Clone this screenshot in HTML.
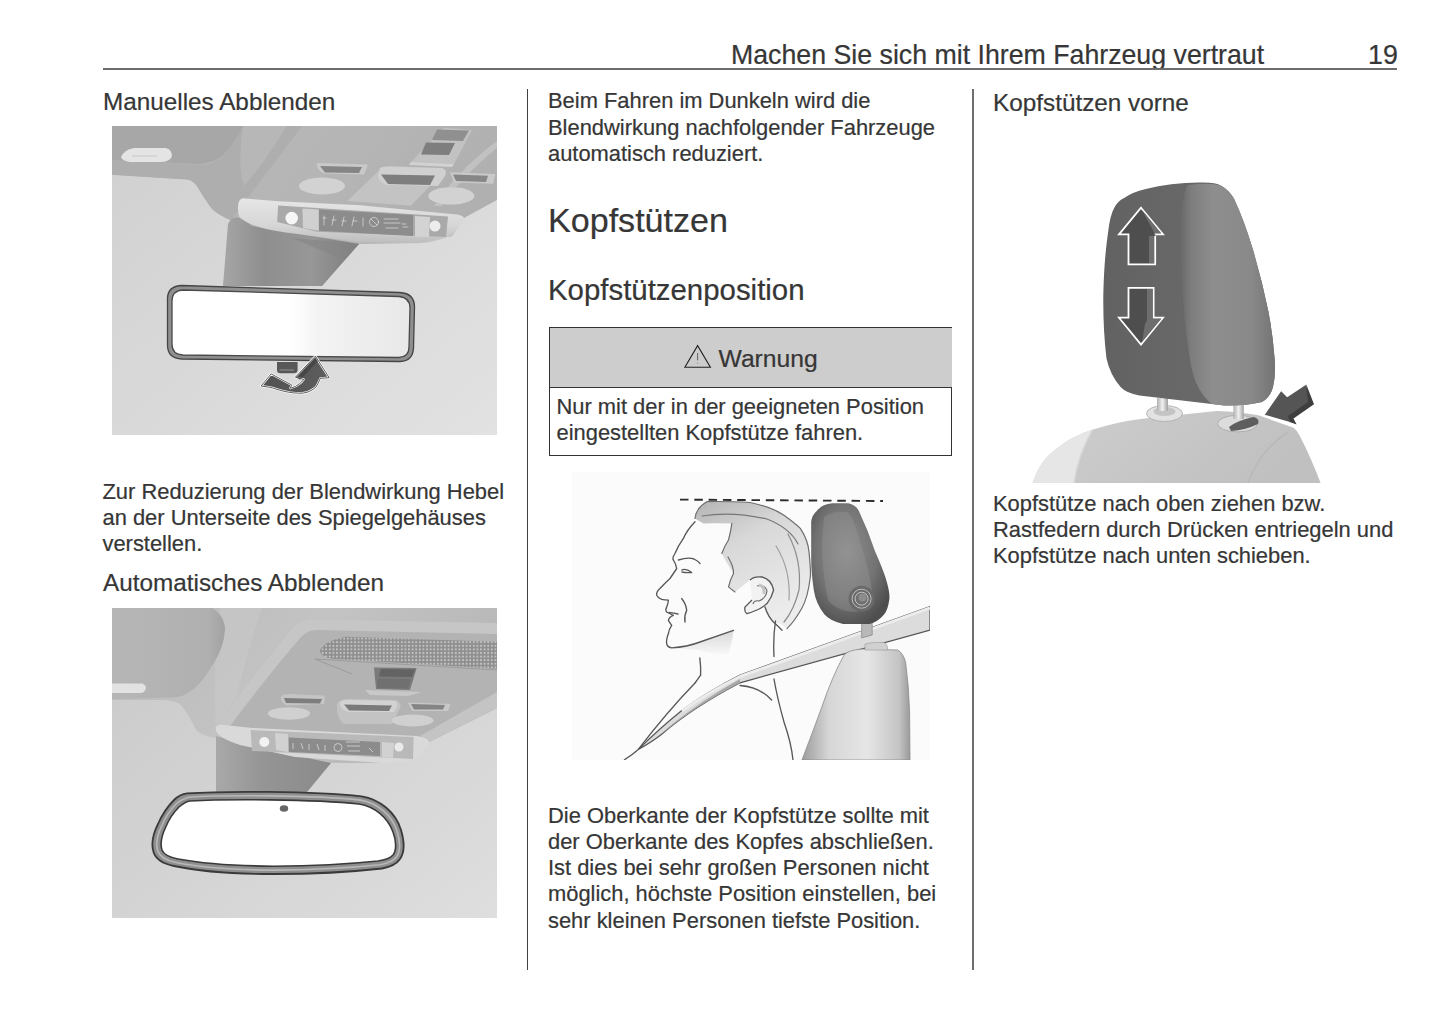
<!DOCTYPE html>
<html><head><meta charset="utf-8">
<style>
html,body{margin:0;padding:0;background:#fff;}
body{width:1445px;height:1018px;position:relative;overflow:hidden;font-family:"Liberation Sans",sans-serif;color:#363636;}
.a{position:absolute;white-space:nowrap;-webkit-text-stroke:0.22px #363636;}
.p{font-size:21.9px;line-height:26.2px;}
.h{font-size:24.3px;line-height:30px;}
.rule{position:absolute;background:#555;}
.img{position:absolute;}
</style></head>
<body>
<!-- header -->
<div class="a" style="left:731px;top:39px;font-size:26.72px;line-height:32px;">Machen Sie sich mit Ihrem Fahrzeug vertraut</div>
<div class="a" style="left:1368px;top:39px;font-size:26.8px;line-height:32px;">19</div>
<div class="rule" style="left:103px;top:68px;width:1294px;height:2px;background:#6c6c6c;"></div>
<div class="rule" style="left:527px;top:89px;width:1.1px;height:880.5px;background:#404040;"></div>
<div class="rule" style="left:972.3px;top:89px;width:1.7px;height:881px;background:#6e6e6e;"></div>

<!-- left column -->
<div class="a h" style="left:103px;top:87px;">Manuelles Abblenden</div>
<div class="img" id="img1" style="left:112px;top:126px;width:385px;height:309px;overflow:hidden;"><svg width="385" height="310" viewBox="0 0 385 310" style="position:absolute;left:0;top:0">
<defs>
<linearGradient id="i1bg" x1="0" y1="0" x2="1" y2="1"><stop offset="0" stop-color="#d0d0d0"/><stop offset="1" stop-color="#e2e2e2"/></linearGradient>
<linearGradient id="i1head" x1="0" y1="0" x2="1" y2="0.3"><stop offset="0" stop-color="#b4b4b4"/><stop offset="0.5" stop-color="#b6b6b6"/><stop offset="1" stop-color="#b0b0b0"/></linearGradient>
<linearGradient id="i1stem" x1="0" y1="0" x2="1" y2="0"><stop offset="0" stop-color="#a6a6a6"/><stop offset="0.3" stop-color="#8e8e8e"/><stop offset="0.65" stop-color="#979797"/><stop offset="1" stop-color="#7c7c7c"/></linearGradient>
<linearGradient id="i1glass" x1="0" y1="0" x2="1" y2="0"><stop offset="0" stop-color="#fff"/><stop offset="0.5" stop-color="#fff"/><stop offset="0.62" stop-color="#f3f3f3"/><stop offset="1" stop-color="#e8e8e8"/></linearGradient>
<linearGradient id="i1bar" x1="0" y1="0" x2="0" y2="1"><stop offset="0" stop-color="#e6e6e6"/><stop offset="0.6" stop-color="#d6d6d6"/><stop offset="1" stop-color="#bdbdbd"/></linearGradient>
<linearGradient id="i1arrow" x1="0" y1="0" x2="1" y2="0"><stop offset="0" stop-color="#505050"/><stop offset="1" stop-color="#5e5e5e"/></linearGradient>
</defs>
<rect width="385" height="310" fill="url(#i1bg)"/>
<!-- headliner / roof region -->
<path d="M0 0 H385 V74 L352 92 L340 110 L303 117 L247 118 L210 160 L111 160 L119.5 94.5 Q108 90 100 83 Q92 72 88 65 Q82 54 75.5 53.5 L0 48.7 Z" fill="url(#i1head)"/>
<path d="M0 33 L88 39 Q100 39 110 31 L131 0 L190 0 Q160 40 128 82 L119.5 94.5 Q108 90 100 83 Q92 72 88 65 Q82 54 75.5 53.5 L0 48.7 Z" fill="#aeaeae"/>
<!-- visor -->
<path d="M0 0 H131 Q122 18 110 30 Q100 38 86 38 L0 34 Z" fill="#a7a7a7"/>
<path d="M9 31 Q12 24 22 22 L54 22 Q60 24 60 30 Q58 36 48 36 L18 36 Q10 35 9 31 Z" fill="#e4e4e4"/>
<path d="M20 30 L45 30" stroke="#c8c8c8" stroke-width="1"/>
<!-- diagonal lighter band (A-pillar trim) -->
<path d="M131 0 L175 0 Q150 40 132 60 Q125 40 131 0 Z" fill="#c0c0c0" opacity="0.5"/>
<!-- sensor box -->
<path d="M332 2 L360 4 L342 38 L299 36 Z" fill="#c2c2c2"/>
<path d="M325 3.5 L357 4.5 L351 15 L320 14 Z" fill="#909090"/>
<path d="M314 16.5 L343 17 L337 29 L309 28.5 Z" fill="#7e7e7e"/>
<path d="M299 36 L342 38 L340 41 L297 39 Z" fill="#d2d2d2"/>
<!-- housing right rim -->
<path d="M385 15 L385 22 Q350 50 330 80 L322 80 Q345 45 385 15 Z" fill="#c6c6c6" opacity="0.8"/>
<!-- switches -->
<path d="M205 37 L256 38.5 L252 48.5 L212 47.5 Q204 44 205 37 Z" fill="#c9c9c9"/>
<path d="M208 40 L250 41 L247 47 L213 46.5 Z" fill="#858585"/>
<path d="M270 41.6 L333.6 43.9 L298.9 79.7 L235.3 75.1 Z" fill="#c3c3c3"/>
<path d="M268 42 Q272 40 282 40.4 L330 42 Q336 44 333 50 L326 60 L275 59 Q266 56 266 50 Z" fill="#d0d0d0"/>
<path d="M269 48.5 L323 49.5 L318 58.9 L276 58 Z" fill="#7e7e7e"/>
<path d="M338 46.2 L383.3 48 L381 57.8 L342 56.5 Z" fill="#c9c9c9"/>
<path d="M341 48.5 L376 49.8 L374 56 L344 55 Z" fill="#878787"/>
<ellipse cx="210" cy="60" rx="23" ry="8.5" fill="#d2d2d2"/>
<ellipse cx="339.3" cy="69.9" rx="23" ry="8.7" fill="#d2d2d2"/>
<!-- stem -->
<path d="M116 98 Q122 84 140 100 L247 118 L210 160 L111 160 Z" fill="url(#i1stem)"/>
<path d="M180 112 L247 118 L232 134 Z" fill="#858585" opacity="0.6"/>
<!-- console bar -->
<path d="M126 80 Q126.5 73 131 72.3 L166 75.2 L248 79.2 L345 88.5 Q354 90 352 95 L340 109 Q322 117 303 117.3 L248 116.3 L185.5 108 Q160 105 146.8 101 Q132 96 127.5 91 Q125.5 86 126 80 Z" fill="url(#i1bar)"/>
<path d="M166.1 79.5 L336 90.5 L334 111 L205 105.7 L165.2 96 Z" fill="#a9a9a9"/>
<path d="M206.8 83.4 L301 89 L301 110 L206.8 104.7 Z" fill="#8c8c8c"/>
<path d="M190.4 82.4 L206.8 83.4 L206.8 104.7 L191 102 Z" fill="#d0d0d0"/>
<path d="M303 90 L318 91 L317 111 L303 110.5 Z" fill="#d3d3d3"/>
<circle cx="179.7" cy="92.1" r="6.3" fill="#f6f6f6"/>
<circle cx="323" cy="100" r="5.5" fill="#ededed"/>
<g stroke="#d6d6d6" stroke-width="0.8" fill="none" stroke-linecap="round">
<path d="M212 90 v9 M211 92 h3 M222 90 l-2 9 M220 94 h4 M232 91 l-2 9 M230 95 h4 M242 91 l-2 9 M241 95 h4 M251 92 v8"/>
<circle cx="262" cy="96" r="4.5"/>
<path d="M259 93 l6 6"/>
<path d="M272 93 h14 M272 97 h16 M274 102 h12 M290 98 h4 M291 101 h5"/>
</g>
<!-- mirror -->
<path d="M70 159.5 L288 166.5 Q302.5 167.5 302.5 181 L301.5 222 Q301 235 288 235.5 L70 233 Q55.5 232.5 55.5 219 L55.5 173 Q55.5 160 70 159.5 Z" fill="#8f8f8f" stroke="#454545" stroke-width="1.3"/>
<path d="M71 164 L287 170.5 Q298 171.5 298 182 L297 221 Q297 231 287 231.5 L71 229 Q60 228.5 60 218 L60 175 Q60 164.5 71 164 Z" fill="url(#i1glass)" stroke="#4a4a4a" stroke-width="1.3"/>
<!-- knob -->
<path d="M165 236 L185.6 236 L185.6 244 Q185.6 247.3 182 247.3 L168.5 247.3 Q165 247.3 165 244 Z" fill="#585858"/>
<path d="M167.5 244 L182 244" stroke="#8a8a8a" stroke-width="1.2"/>
<!-- arrow -->
<path d="M149.1 260 L159.1 247.9 L179.5 258.9 L178.4 262.3 Q184 261 187.3 257.8 Q190 256 191.7 253.4 L183.4 251.2 L203.4 230.1 L217.2 251.7 L208.3 252.3 Q206 258 203.9 261.2 Q200 264.5 195.6 266.1 Q191 267.5 187.3 267.2 Q180 267 176.2 266.1 Q170 265 165.1 263.4 Q160 261.5 156.8 261.1 Z" fill="url(#i1arrow)" stroke="#fff" stroke-width="2.2" stroke-linejoin="round"/>
<path d="M149.1 260 L159.1 247.9 L179.5 258.9 L178.4 262.3 Q184 261 187.3 257.8 Q190 256 191.7 253.4 L183.4 251.2 L203.4 230.1 L217.2 251.7 L208.3 252.3 Q206 258 203.9 261.2 Q200 264.5 195.6 266.1 Q191 267.5 187.3 267.2 Q180 267 176.2 266.1 Q170 265 165.1 263.4 Q160 261.5 156.8 261.1 Z" fill="none" stroke="#333" stroke-width="0.8" stroke-linejoin="round"/>
<path d="M184 251 L203.4 231 L206 235 L188 254 Z" fill="#3a3a3a" opacity="0.6"/>
</svg>
</div>
<div class="a p" style="left:102.5px;top:479px;">Zur Reduzierung der Blendwirkung Hebel<br>an der Unterseite des Spiegelgehäuses<br>verstellen.</div>
<div class="a h" style="left:103px;top:568px;">Automatisches Abblenden</div>
<div class="img" id="img2" style="left:112px;top:608px;width:385px;height:310px;overflow:hidden;"><svg width="385" height="310" viewBox="0 0 385 310" style="position:absolute;left:0;top:0">
<defs>
<linearGradient id="i2bg" x1="0" y1="0" x2="1" y2="1"><stop offset="0" stop-color="#c9c9c9"/><stop offset="1" stop-color="#dedede"/></linearGradient>
<linearGradient id="i2head" x1="0" y1="0" x2="1" y2="0.4"><stop offset="0" stop-color="#b9b9b9"/><stop offset="0.5" stop-color="#c3c3c3"/><stop offset="1" stop-color="#b6b6b6"/></linearGradient>
<linearGradient id="i2visor" x1="0" y1="0" x2="1" y2="0"><stop offset="0" stop-color="#b6b6b6"/><stop offset="0.85" stop-color="#b0b0b0"/><stop offset="1" stop-color="#a2a2a2"/></linearGradient>
<linearGradient id="i2stem" x1="0" y1="0" x2="1" y2="0"><stop offset="0" stop-color="#a9a9a9"/><stop offset="0.4" stop-color="#959595"/><stop offset="1" stop-color="#8a8a8a"/></linearGradient>
<linearGradient id="i2frame" x1="0" y1="0" x2="0" y2="1"><stop offset="0" stop-color="#555"/><stop offset="1" stop-color="#4a4a4a"/></linearGradient>
<pattern id="dots" width="3.6" height="3.6" patternUnits="userSpaceOnUse"><rect width="3.6" height="3.6" fill="#8e8e8e"/><circle cx="1.8" cy="1.8" r="1.05" fill="#c6c6c6"/></pattern>
</defs>
<rect width="385" height="310" fill="url(#i2bg)"/>
<!-- headliner surround -->
<path d="M0 0 H385 V100 L317 134 L274 155 L219 155 L195 184 L104 184 L104 130 Q90 128 84 122 Q76 105 68 96 Q60 92 50 92 L0 92 Z" fill="url(#i2head)"/>
<!-- diagonal light band -->
<path d="M108 0 L150 0 Q130 60 118 118 L104 118 Q100 60 108 0 Z" fill="#c7c7c7" opacity="0.7"/>
<!-- visor -->
<path d="M0 0 H100 Q113 8 113 22 Q112 40 100 58 Q88 78 76 85 Q70 89 60 89.6 L0 91 Z" fill="url(#i2visor)"/>
<path d="M0 75.5 L30 75.5 Q34 77 34 80 Q33 85 28 85 L0 85 Z" fill="#e2e2e2"/>
<!-- console housing -->
<path d="M183 17 Q190 12 200 12 L385 16 L385 100 L317 134 L140 120 L104 118 Q150 55 183 17 Z" fill="#b3b3b3"/>
<path d="M183 17 Q190 11.5 202 11.5 L385 15 L385 26 L205 22 Q196 22 190 28 Q160 62 118 118 L104 118 Q150 55 183 17 Z" fill="#c6c6c6"/>
<path d="M385 84 L385 100 L317 134 L308 128 Z" fill="#c4c4c4"/>
<path d="M208 42 Q214 32 234 28.7 L385 33.8 L385 60.8 L220 50.7 Q207 48 208 42 Z" fill="url(#dots)"/>
<path d="M203 51 L385 62 M203 51 L240 66" stroke="#9c9c9c" stroke-width="1"/>
<path d="M253 82 L310 84 L296 88 L258 87 Z" fill="#c8c8c8"/>
<path d="M262 59.5 L304.7 60 L298 82 L264 81 Z" fill="#7a7a7a"/>
<path d="M269 61 L303 61.5 L300 69 L267 68.5 Z" fill="#636363"/>
<path d="M266 70.5 L299 71 L296 80.5 L265 80 Z" fill="#707070"/>
<path d="M169 88 Q171 86 176 86 L212 87.5 Q214 90 212 96 L175 97.5 Q168 95 169 88 Z" fill="#c4c4c4"/>
<path d="M172 90 L210 91 L208 95.5 L174 95 Z" fill="#7e7e7e"/>
<path d="M225 96 Q228 91 236 91 L284 92 Q290 95 288 100 L280 116 L232 116 Q224 110 225 96 Z" fill="#c3c3c3"/>
<path d="M228 94 Q230 92 236 92 L283 93 Q286 95 285 99 L282 104 L236 104 Q227 101 228 94 Z" fill="#d2d2d2"/>
<path d="M232 96.5 L280 97.5 L277 103 L237 102.5 Z" fill="#7a7a7a"/>
<path d="M296 94.6 L338.5 96 L336 103 L300 103 Z" fill="#c8c8c8"/>
<path d="M299 96 L333 97 L331 101.5 L302 101.5 Z" fill="#858585"/>
<ellipse cx="177" cy="105.5" rx="21" ry="6.2" fill="#d0d0d0"/>
<ellipse cx="300.5" cy="112.4" rx="21" ry="6" fill="#d0d0d0"/>
<!-- stem -->
<path d="M104 128 L140 138 L219 155 L195 184 L104 184 Z" fill="url(#i2stem)"/>
<!-- console bar -->
<path d="M103.6 118.8 Q106 116 112 117 L140 120 L304.6 128 Q318 130 317 135 L308 149 Q296 155 274 155.3 L183 149 L128 137 Q112 132 106 126 Q103 122 103.6 118.8 Z" fill="#d9d9d9"/>
<path d="M138.6 122 L301.6 129 L301 151 L140 143 Z" fill="#b9b9b9"/>
<path d="M176.7 129.5 L268 134 L268 148 L177 144 Z" fill="#8c8c8c"/>
<path d="M163 125 L176 126 L176 144 L164 142 Z" fill="#d1d1d1"/>
<path d="M270 134 L282 135 L281 150 L270 149 Z" fill="#d1d1d1"/>
<circle cx="152.3" cy="134" r="5" fill="#f2f2f2"/>
<circle cx="287" cy="139" r="4.5" fill="#eaeaea"/>
<g stroke="#d8d8d8" stroke-width="0.8" fill="none">
<path d="M181 135 v6 M189 135 l2 6 M197 136 v6 M205 136 l2 6 M213 137 v6"/>
<circle cx="226" cy="139.5" r="4"/>
<path d="M234 134 h14 M235 138 h13 M236 143 h12 M257 140 l4 4"/>
</g>
<!-- mirror -->
<path d="M75 185.4 C110 183 200 183 249.6 188.3 C268 191 284 205 289 222 C292 232 293 244 288 251 C284 257 278 259 270 260.5 C230 265 190 266 162 266 C130 266 90 264 62 258 C52 256 44 252 41.5 244 C39 236 41 226 46 216 C50 207 56 198 62 192 C66 188 70 186 75 185.4 Z" fill="#8e8e8e" stroke="#3a3a3a" stroke-width="1.8"/>
<path d="M76.5 189.2 C111 187 200 187 248.3 192.1 C265.5 194.7 280 207.5 285 223 C288 232 289 243 284.5 249 C281 253.8 275.5 255.5 268 256.8 C229 261 190 262 162 262.1 C130.5 262 91.5 260 64 254.5 C55 252.7 48 249.5 45.8 243 C43.5 236 45.2 227 49.8 217.8 C53.5 209 59 201 64.5 195.5 C68.2 192 72.2 190.8 76.5 189.2 Z" fill="none" stroke="#b8b8b8" stroke-width="1.6"/>
<path d="M78 193 C112 191 200 191 247 196 C263 198.5 276 210 281 224 C284 232 285 242 281 247 C278 250.5 273 252 266 253 C228 257 190 258 162 258.2 C131 258 93 256 66 251 C58 249.5 52 247 50 242 C48 236 49.5 228 53.5 219.5 C57 211 62 204 67 199 C70.5 196 74 193.5 78 193 Z" fill="#fff" stroke="#3a3a3a" stroke-width="1.6"/>
<ellipse cx="172" cy="200.5" rx="4.2" ry="3.2" fill="#666"/>
</svg>
</div>

<!-- middle column -->
<div class="a p" style="left:548px;top:88.3px;">Beim Fahren im Dunkeln wird die<br>Blendwirkung nachfolgender Fahrzeuge<br>automatisch reduziert.</div>
<div class="a" style="left:548px;top:199.8px;font-size:34.1px;line-height:40px;">Kopfstützen</div>
<div class="a" style="left:548px;top:271.5px;font-size:29.4px;line-height:36px;">Kopfstützenposition</div>
<div class="a" style="left:548.5px;top:326.5px;width:401.5px;height:127px;border:1.5px solid #333;"></div>
<div class="a" style="left:550px;top:328px;width:401.5px;height:59px;background:#cdcdcd;border-bottom:1.5px solid #333;"></div>
<svg style="position:absolute;left:675px;top:335px" width="60" height="40" viewBox="675 335 60 40"><path d="M697.6 345.6 L684.9 367.2 L710.4 367.2 Z" fill="none" stroke="#222" stroke-width="1.1" stroke-linejoin="miter"/><path d="M697.6 353 L697.6 360.3" stroke="#555" stroke-width="0.9"/><circle cx="697.6" cy="363.2" r="0.5" fill="#666"/></svg>
<div class="a" style="left:718.5px;top:344px;font-size:24.7px;line-height:30px;">Warnung</div>
<div class="a p" style="left:556.5px;top:393.8px;">Nur mit der in der geeigneten Position<br>eingestellten Kopfstütze fahren.</div>
<div class="img" id="img3" style="left:572px;top:472px;width:358px;height:288px;overflow:hidden;"><svg width="358" height="288" viewBox="0 0 358 288" style="position:absolute;left:0;top:0">
<defs>
<linearGradient id="i3hair" x1="0" y1="0" x2="0.5" y2="1"><stop offset="0" stop-color="#b4b4b4"/><stop offset="0.18" stop-color="#c4c4c4"/><stop offset="0.4" stop-color="#d8d8d8"/><stop offset="1" stop-color="#ececec"/></linearGradient>
<radialGradient id="i3hr" cx="0.45" cy="0.4" r="0.65"><stop offset="0" stop-color="#8e8e8e"/><stop offset="0.6" stop-color="#737373"/><stop offset="1" stop-color="#4e4e4e"/></radialGradient>
<linearGradient id="i3seat" x1="0" y1="0" x2="1" y2="0"><stop offset="0" stop-color="#9c9c9c"/><stop offset="0.25" stop-color="#d6d6d6"/><stop offset="0.6" stop-color="#e6e6e6"/><stop offset="0.9" stop-color="#c4c4c4"/><stop offset="1" stop-color="#9a9a9a"/></linearGradient>
<linearGradient id="i3jaw" x1="0" y1="0" x2="0" y2="1"><stop offset="0" stop-color="#d0d0d0"/><stop offset="1" stop-color="#f6f6f6"/></linearGradient>
</defs>
<rect width="358" height="288" fill="#fcfbfb"/>
<!-- dashed line -->
<path d="M108 27.6 L311 29" stroke="#2a2a2a" stroke-width="1.9" stroke-dasharray="8.5 5.8"/>
<!-- hair -->
<path d="M123 46.4 Q124 36 134.8 29.7 Q150 29 178 30.5 Q200 35 211.6 43 Q224 52 228.3 56.4 Q236 68 237 80 Q239 100 238.3 105 Q236 125 230 136 Q222 150 215 156.6 Q208 150 203 151.6 Q196 140 193 135 Q200 125 201.6 118 Q199 107 190 105 Q182 104 178 108 Q168 116 163 119.9 Q157 116 156.5 114.9 Q160 105 161.5 101.5 Q154 90 149.8 81.5 Q153 73 156.5 68 Q159 58 159.8 51.4 Q140 51 131.4 51.4 Z" fill="url(#i3hair)"/>
<g fill="none" stroke="#6e6e6e" stroke-width="1.2" stroke-linecap="round">
<path d="M123 46.4 Q124 36 134.8 29.7 Q150 29 178 30.5 Q200 35 211.6 43 Q224 52 228.3 56.4 Q236 68 237 80 Q239 100 238.3 105 Q236 125 230 136 Q222 150 215 156.6"/>
<path d="M130 44 Q160 39 195 47 Q218 56 226 72" stroke="#777" stroke-width="1.1"/>
<path d="M216 62 Q230 88 227 118 Q222 138 212 150" stroke="#8c8c8c"/>
<path d="M204 74 Q219 98 217 128" stroke="#a0a0a0"/>
<path d="M159.8 51.4 Q159 58 156.5 68 Q153 73 149.8 81.5"/>
<path d="M156 85 Q162 95 161.5 101.5 Q158 108 156.5 114.9 Q160 118 163 119.9"/>
</g>
<!-- ear -->
<path d="M178 108 Q182 104 190 105 Q199 107 201.6 118 Q200 125 195 131.6 Q190 136 185 138 Q178 141 174.9 141.6 Q172 140 173 135 Q176 132 180 128" fill="#f2f2f2" stroke="#585858" stroke-width="1.3"/>
<path d="M185 114 Q193 112 195 119 Q194 126 187 129 Q182 128 181 132" fill="none" stroke="#666" stroke-width="1.1"/>
<path d="M187 113 Q193 114 192 122" fill="none" stroke="#c4c4c4" stroke-width="3"/>
<!-- jaw shadow -->
<path d="M100 175.8 Q130 172 161.5 158.3 Q160 172 156 182 Q135 182 128 178.3 Q112 177 100 175.8 Z" fill="url(#i3jaw)" opacity="0.8"/>
<!-- face profile -->
<g fill="none" stroke="#585858" stroke-width="1.35" stroke-linejoin="round" stroke-linecap="round">
<path d="M123 49.7 Q115 58 111.4 66.4 Q106 74 103 81.5 Q100 86 101.4 88 Q104 92 104.7 96.5 Q101 102 98 106.5 Q92 112 88 116.5 Q84 120 84.7 123.2 Q86 126 89.7 127.4 Q93 128 96.4 128.2 Q96 132 94.7 134.9 Q93 138 94.7 140 Q98 142 101.4 143.3 Q97 145 96.4 148.3 Q98 151 99.7 153.3 Q97 157 96.4 161.6 Q94 168 94.7 171.6 Q95 175 99.7 175.8 Q115 175 128 170 Q145 164 161.5 158.3"/>
<path d="M106.4 88 Q116 85 122 87 Q126 89 128 91.5"/>
<path d="M109.7 98 Q114 96 119.7 100.5 Q114 101 110 100"/>
<path d="M109.7 126.5 Q114 132 114.7 138.2 Q112 144 113 150"/>
<path d="M97 140.5 Q102 141 106 142"/>
<path d="M127.8 185.9 Q129 195 128.6 203.2"/>
<path d="M203.5 149 Q201 165 202 184.5 M202 207 Q205 225 212 250 Q219.3 271 221 288"/>
<path d="M193 135 Q196 145 203 151.6 Q207 155 210 158.3"/>
<path d="M128.6 203.2 Q126 207 123 211"/>
<path d="M168 213.5 Q188 215 199.6 228"/>
</g>
<!-- belt -->
<path d="M358 134.6 L168 203 Q135 220 110.4 238 Q88 256 66.3 277.4 Q80 270 90 262 Q120 236 168 210.8 L358 158.2 Z" fill="#dcdcdc" stroke="#555" stroke-width="1.2"/>
<path d="M358 136 L168 204.5 Q135 221 110 239" fill="none" stroke="#ececec" stroke-width="3"/>
<path d="M168 210.8 Q120 236 90 262 L98 254 Q130 228 168 207 Z" fill="#a8a8a8"/>
<path d="M123 211 Q95 240 66.3 277.4 Q60 283 52 288" fill="none" stroke="#585858" stroke-width="1.3"/>
<!-- seat -->
<path d="M271.9 183.2 Q276 178 290 177 L325.8 178 Q332 182 333.7 191 Q337 215 337.6 240 L338 288 L230 288 Q240 262 249.8 235 Q260 205 271.9 183.2 Z" fill="url(#i3seat)" stroke="#8a8a8a" stroke-width="0.8"/>
<path d="M293 172 Q300 170 312 170.5 Q316 172 315.5 178 L293 178 Z" fill="#d0d0d0" stroke="#999" stroke-width="0.6"/>
<!-- post -->
<path d="M289.6 150 L300.2 150 L300.2 163 L289.6 166 Z" fill="#b8b8b8" stroke="#777" stroke-width="0.6"/>
<!-- headrest -->
<path d="M244.5 39.2 Q250 32 260.4 31.3 L276.3 31.3 Q284 33 287 39.2 Q296 58 302.9 79 Q310 95 313.5 105.5 Q318 120 317.4 126.7 Q316 138 312 142.6 Q306 150 297.6 152 L271 152 Q258 149 252.5 142.6 Q244 132 241.9 118.8 Q239 100 239.2 84.3 L239.2 49.8 Q240 43 244.5 39.2 Z" fill="url(#i3hr)"/>
<path d="M252 45 Q262 38 275 40 Q282 45 288 70 Q298 100 300 120 Q296 135 285 140 Q265 140 256 128 Q250 100 250 70 Z" fill="#9a9a9a" opacity="0.35"/>
<circle cx="289.6" cy="126.7" r="13" fill="#6a6a6a"/>
<circle cx="289.6" cy="126.7" r="9.5" fill="none" stroke="#bdbdbd" stroke-width="1"/>
<circle cx="289.6" cy="126.7" r="6.5" fill="#707070" stroke="#c4c4c4" stroke-width="1"/>
<circle cx="290.5" cy="125.5" r="4" fill="#8c8c8c"/>
</svg>
</div>
<div class="a p" style="left:548px;top:802.8px;">Die Oberkante der Kopfstütze sollte mit<br>der Oberkante des Kopfes abschließen.<br>Ist dies bei sehr großen Personen nicht<br>möglich, höchste Position einstellen, bei<br>sehr kleinen Personen tiefste Position.</div>

<!-- right column -->
<div class="a h" style="left:993px;top:88px;">Kopfstützen vorne</div>
<div class="img" id="img4" style="left:1020px;top:170px;width:310px;height:320px;overflow:hidden;"><svg width="310" height="320" viewBox="0 0 310 320" style="position:absolute;left:0;top:0">
<defs>
<linearGradient id="i4face" x1="0" y1="0" x2="1" y2="0"><stop offset="0" stop-color="#626262"/><stop offset="0.5" stop-color="#686868"/><stop offset="1" stop-color="#6c6c6c"/></linearGradient>
<linearGradient id="i4side" x1="0" y1="0" x2="1" y2="0"><stop offset="0" stop-color="#686868"/><stop offset="0.12" stop-color="#7e7e7e"/><stop offset="0.35" stop-color="#8e8e8e"/><stop offset="0.75" stop-color="#898989"/><stop offset="1" stop-color="#747474"/></linearGradient>
<linearGradient id="i4seat" x1="0" y1="0" x2="1" y2="0.3"><stop offset="0" stop-color="#e2e2e2"/><stop offset="0.2" stop-color="#cbcbcb"/><stop offset="0.6" stop-color="#c6c6c6"/><stop offset="1" stop-color="#c0c0c0"/></linearGradient>
<linearGradient id="i4post" x1="0" y1="0" x2="1" y2="0"><stop offset="0" stop-color="#b0b0b0"/><stop offset="0.5" stop-color="#f0f0f0"/><stop offset="1" stop-color="#a0a0a0"/></linearGradient>
</defs>
<!-- seat -->
<path d="M12.6 313 Q20 290 37 278.5 Q52 266 72.3 259.8 Q95 252 124.2 248.4 L196.8 241.1 Q220 242 238.4 245.3 L273.6 257.7 Q278 261 279.9 266 Q292 290 300.6 313 Z" fill="url(#i4seat)"/>
<path d="M37 278.5 Q52 266 72.3 259.8 Q58 285 54 313 L12.6 313 Q20 290 37 278.5 Z" fill="#e6e6e6"/>
<path d="M72.3 259.8 Q58 285 54 313" fill="none" stroke="#d8d8d8" stroke-width="1.5"/>
<path d="M268 262 Q240 280 228 313" fill="none" stroke="#b8b8b8" stroke-width="1.5"/>

<!-- posts -->
<ellipse cx="144.5" cy="243.5" rx="18" ry="8" fill="#e2e2e2" stroke="#a8a8a8" stroke-width="0.8"/>
<ellipse cx="144.5" cy="241.5" rx="11" ry="4.5" fill="#c4c4c4"/>
<rect x="137" y="228" width="11" height="13" fill="url(#i4post)"/>
<ellipse cx="217.6" cy="253.6" rx="20" ry="8.3" fill="#dcdcdc" stroke="#a4a4a4" stroke-width="0.8"/>
<rect x="213.4" y="232" width="10.4" height="17" fill="url(#i4post)"/>
<path d="M209 257 Q218 250 234 247 Q240 249 238 254 Q226 260 211 261 Z" fill="#5e5e5e"/>
<!-- headrest -->
<path d="M103.7 28.3 Q112 22 125.8 18.9 Q150 13 179.2 12.6 Q195 12 201.2 15.7 Q209 20 213.8 28.3 Q224 50 232.6 78.6 Q242 110 248.4 141.5 Q253 165 254.6 188.6 Q256 205 253 217 Q250 228 242 232 Q225 236 204.3 235.5 L119.5 225.5 Q106 223 100.6 217 Q90 205 86.5 188.6 Q83 160 83.3 125.7 Q84 90 88 62.9 Q90 45 94.3 37.7 Q98 31 103.7 28.3 Z" fill="url(#i4face)"/>
<path d="M168 15 Q190 12 201.2 15.7 Q209 20 213.8 28.3 Q224 50 232.6 78.6 Q242 110 248.4 141.5 Q253 165 254.6 188.6 Q256 205 253 217 Q250 228 242 232 Q225 236 204.3 235.5 L192 234 Q176 222 171 195 Q163 150 160.3 78.6 Q160 45 163.5 28 Q165 18 168 15 Z" fill="url(#i4side)"/>
<!-- up arrow -->
<path d="M121 37.7 L143 64.4 L135.2 64.4 L135.2 94.3 L108.5 94.3 L108.5 64.4 L99 64.4 Z" fill="#4e4e4e" stroke="#fff" stroke-width="1.8" stroke-linejoin="miter"/>
<path d="M122 40 L141 63 L134 63 L134 93 L129 93 L129 66 L136 66 Z" fill="#6e6e6e"/>
<!-- down arrow -->
<path d="M108.5 117.9 L133.6 117.9 L133.6 147.7 L143 147.7 L121 174.5 L99 147.7 L108.5 147.7 Z" fill="#4e4e4e" stroke="#fff" stroke-width="1.8" stroke-linejoin="miter"/>
<path d="M127 119 L132.5 119 L132.5 149 L141 149 L122 172 L125 154 L127 150 Z" fill="#6e6e6e"/>
<!-- push arrow -->
<path d="M243.6 245.2 L261 220 L267.2 226.3 L286 213.8 L294 234.2 L273.5 248.4 L276.6 254.6 Z" fill="#555" stroke="#fff" stroke-width="1.5" stroke-linejoin="round"/>
<path d="M286 213.8 L294 234.2 L273.5 248.4 L276.6 254.6 L270 252 L268 246 L288 232 Z" fill="#3e3e3e"/>
</svg>
</div>
<div class="a p" style="left:993px;top:490.5px;">Kopfstütze nach oben ziehen bzw.<br>Rastfedern durch Drücken entriegeln und<br>Kopfstütze nach unten schieben.</div>
</body></html>
